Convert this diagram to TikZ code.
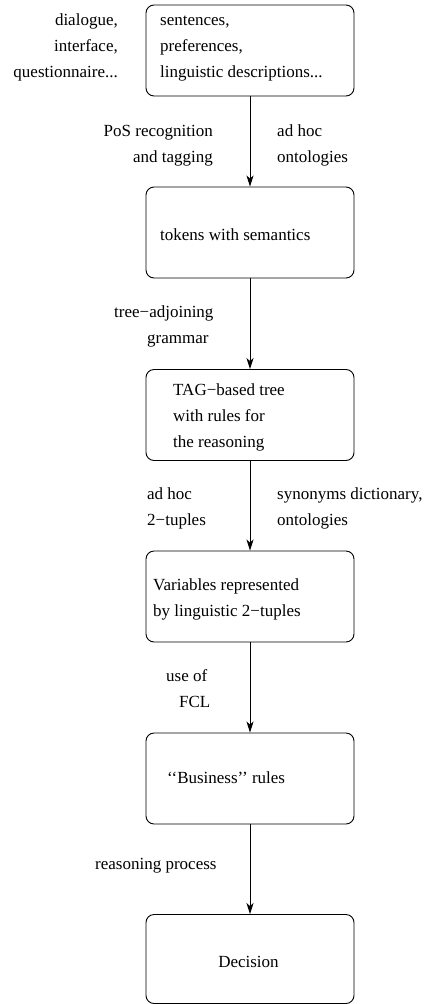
\documentclass[tikz,border=0pt]{standalone}
\usepackage{fontspec}
\setmainfont{Liberation Serif}
\usetikzlibrary{arrows.meta}
\tikzset{
stage/.style={
  draw,rounded corners=8pt,line width=0.9pt,
  minimum width=208pt,minimum height=91pt},
txt/.style={anchor=base west,align=left,inner sep=0pt,
  font=\fontsize{17}{25.7}\selectfont},
rtxt/.style={txt,anchor=base east,align=right},
flow/.style={-{Stealth[length=11pt,width=7pt,inset=3pt]},line width=0.9pt}}

\begin{document}
\begin{tikzpicture}[x=1pt,y=-1pt]
\useasboundingbox (0,0) rectangle (425,1004);
% boxes
\node[stage] (input) at (250,50.5) {};
\node[stage] (tokens) at (250,232.5) {};
\node[stage] (tag) at (250,415) {};
\node[stage] (vars) at (250,596.5) {};
\node[stage] (rules) at (250,778.5) {};
\node[stage,minimum height=89pt] (decision) at (250,959) {};
% box texts (base = last line)
\node[txt] (inputtxt) at (160,77) {sentences,\\preferences,\\linguistic descriptions...};
\node[txt] (tokenstxt) at (160,240) {tokens with semantics};
\node[txt] (tagtxt) at (173,447) {TAG−based tree\\with rules for\\the reasoning};
\node[txt] (varstxt) at (153,616) {Variables represented\\by linguistic 2−tuples};
\node[txt] (rulestxt) at (167,783) {‘‘Business’’ rules};
\node[txt,anchor=base] (decisiontxt) at (248.5,967) {Decision};
% side notes
\node[rtxt] (sources) at (118,77) {dialogue,\\interface,\\questionnaire...};
\node[rtxt] (pos) at (213,162) {PoS recognition\\and tagging};
\node[txt] (onto) at (277,162) {ad hoc\\ontologies};
\node[txt] (tadj) at (114,343) {tree−adjoining\\\hspace*{33pt}grammar};
\node[txt] (adhoc) at (147,525) {ad hoc\\2−tuples};
\node[txt] (syn) at (277,525) {synonyms dictionary,\\ontologies};
\node[txt] (fcl) at (166,707) {use of\\\hspace*{13pt}FCL};
\node[txt] (reas) at (95,869) {reasoning process};
% arrows
\draw[flow] (input) -- (tokens);
\draw[flow] (tokens) -- (tag);
\draw[flow] (tag) -- (vars);
\draw[flow] (vars) -- (rules);
\draw[flow] (rules) -- (decision);
\end{tikzpicture}
\end{document}
